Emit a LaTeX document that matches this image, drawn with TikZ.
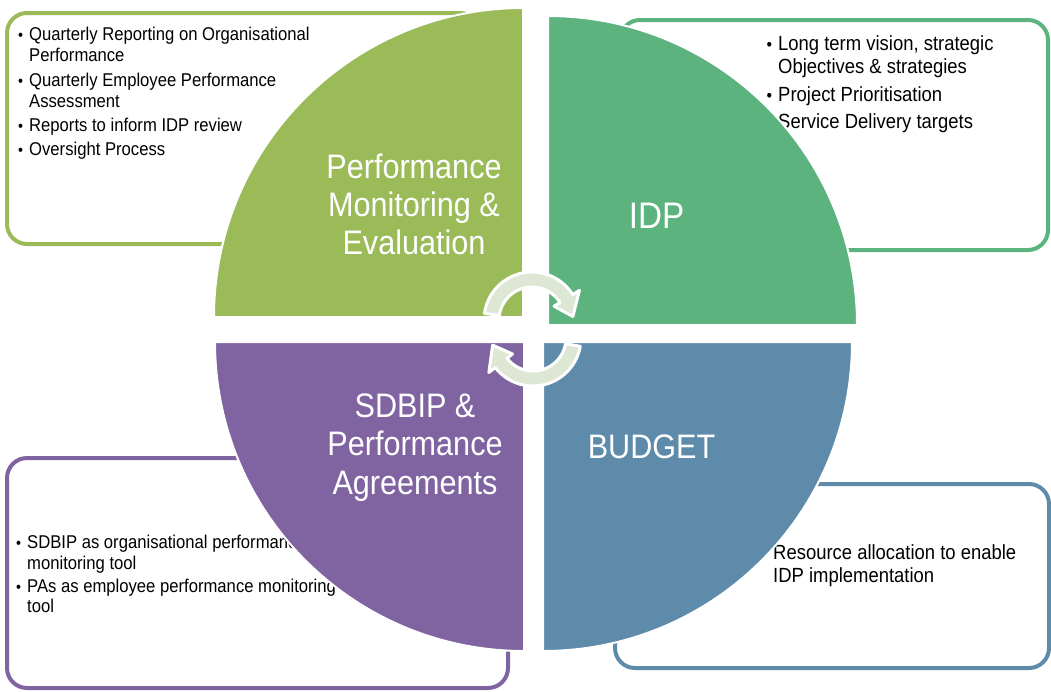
\documentclass[tikz,border=0pt]{standalone}
\usepackage{fontspec}
\setmainfont[FakeStretch=0.9]{Liberation Sans}
\usepackage{xcolor}
\definecolor{pmegreen}{RGB}{155,187,89}
\definecolor{idpgreen}{RGB}{92,179,126}
\definecolor{sdbippurple}{RGB}{128,100,162}
\definecolor{budgetblue}{RGB}{95,139,171}
\definecolor{arrowfill}{RGB}{221,231,212}
\newcommand{\itemdot}{\llap{\scalebox{0.85}{\textbullet}\hspace{6pt}}}

\begin{document}
\begin{tikzpicture}[x=1pt,y=-1pt,
    infobox/.style={draw=#1,line width=4pt,fill=white,rounded corners=20pt},
    quadrant/.style={fill=#1,draw=white,line width=2pt},
    smalltext/.style={align=left,inner sep=0pt,anchor=north west},
    quadlabel/.style={text=white,align=center,inner sep=0pt},
    cyclearrow/.style={fill=arrowfill,draw=white,line width=3pt,line join=round}]
        \useasboundingbox (0,0) rectangle (1051,691);
        % text boxes behind the wheel
        \draw[infobox=pmegreen] (7,13) rectangle (480,244);
        \draw[infobox=idpgreen] (620,20) rectangle (1048,250);
        \draw[infobox=sdbippurple] (7,458) rectangle (508,688);
        \draw[infobox=budgetblue] (615,484) rectangle (1049,668);
        \node[smalltext,font=\fontsize{18.5}{21}\selectfont] (pmelist) at (29,27.3)
            {\itemdot Quarterly Reporting on Organisational\\ Performance\\[3.3pt]
             \itemdot Quarterly Employee Performance\\ Assessment\\[3.3pt]
             \itemdot Reports to inform IDP review\\[3.3pt]
             \itemdot Oversight Process};
        \node[smalltext,font=\fontsize{20.5}{22.5}\selectfont] (idplist) at (778,35.7)
            {\itemdot Long term vision, strategic\\ Objectives \& strategies\\[6pt]
             \itemdot Project Prioritisation\\[4pt]
             \itemdot Service Delivery targets};
        \node[smalltext,font=\fontsize{18.5}{20.5}\selectfont] (sdbiplist) at (27,535)
            {\itemdot SDBIP as organisational performance\\ monitoring tool\\[2.5pt]
             \itemdot PAs as employee performance monitoring\\ tool};
        \node[smalltext,font=\fontsize{20.5}{23.5}\selectfont] (budgetlist) at (773,544)
            {\itemdot Resource allocation to enable\\ IDP implementation};
        % the four quarters
        \draw[quadrant=pmegreen] (523,317) -- ++(-309,0) arc[start angle=180,end angle=270,radius=309] -- cycle;
        \draw[quadrant=idpgreen] (548,325) -- ++(0,-309) arc[start angle=270,end angle=360,radius=309] -- cycle;
        \draw[quadrant=budgetblue] (543,342) -- ++(309,0) arc[start angle=0,end angle=90,radius=309] -- cycle;
        \draw[quadrant=sdbippurple] (524,342) -- ++(0,309) arc[start angle=90,end angle=180,radius=309] -- cycle;
        \node[quadlabel,font=\fontsize{34}{38}\selectfont,anchor=north] (pmelabel) at (414,153.5)
            {Performance\\ Monitoring \&\\ Evaluation};
        \node[quadlabel,font=\fontsize{37}{40}\selectfont,anchor=base] (idplabel) at (656.5,228) {IDP};
        \node[quadlabel,font=\fontsize{34}{38}\selectfont,anchor=base] (budgetlabel) at (651.5,458) {BUDGET};
        \node[quadlabel,font=\fontsize{34}{38.5}\selectfont,anchor=north] (sdbiplabel) at (415,393.5)
            {SDBIP \&\\ Performance\\ Agreements};
        % cycle arrows in the middle
        \begin{scope}[shift={(532,320)}]
            \draw[cyclearrow] (188:48) arc[start angle=188,end angle=328,radius=48] -- (328:56) -- (355:41)
                -- (328:26) -- (328:33) arc[start angle=328,end angle=188,radius=33] -- cycle;
        \end{scope}
        \begin{scope}[shift={(533,338)}]
            \draw[cyclearrow] (10:48) arc[start angle=10,end angle=142,radius=48] -- (142:56) -- (170:41)
                -- (142:26) -- (142:33) arc[start angle=142,end angle=10,radius=33] -- cycle;
        \end{scope}
    \end{tikzpicture}
\end{document}
